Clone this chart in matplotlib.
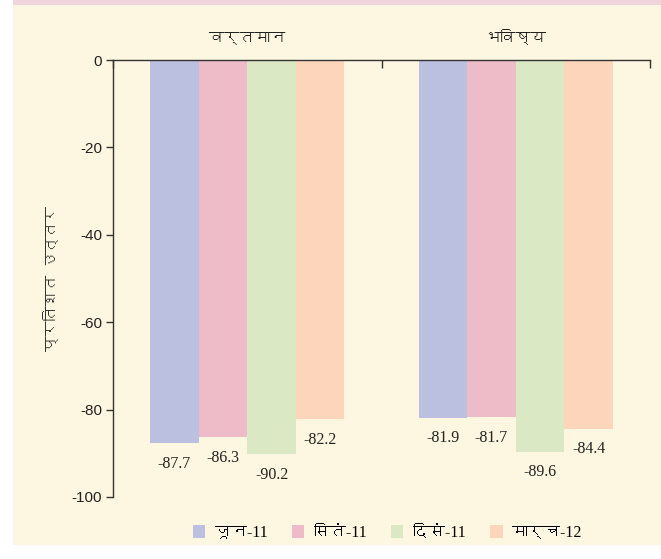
import matplotlib
matplotlib.use("Agg")
import matplotlib.pyplot as plt
from matplotlib import font_manager
from matplotlib.ft2font import FT2Font
from matplotlib.patches import Rectangle
import numpy as np

groups = ["वर्तमान", "भविष्य"]
series = ["जून-11", "सितं-11", "दिसं-11", "मार्च-12"]
values = {
    "जून-11": [-87.7, -81.9],
    "सितं-11": [-86.3, -81.7],
    "दिसं-11": [-90.2, -89.6],
    "मार्च-12": [-82.2, -84.4],
}
yticks = [0, -20, -40, -60, -80, -100]
ylabel = "प्रतिशत उत्तर"

colors = ["#bbbfe0", "#edbcc8", "#dae9c4", "#fdd5ba"]
bg = "#fdf6e1"


def fonts_with(ch):
    # names of installed fonts that have a glyph for ch
    names = []
    for path in sorted(font_manager.findSystemFonts()):
        try:
            if ord(ch) in FT2Font(path).get_charmap():
                names.append(font_manager.FontProperties(fname=path).get_name())
        except Exception:
            continue
    return names


found = fonts_with("क")
prop = [n for n in found if "Mono" not in n]
deva = (prop or found or [None])[0]
extra = [deva] if deva else []

sans = ["Liberation Sans"] + extra
hindi = extra + ["Liberation Sans"]
serif = ["Liberation Serif"] + extra
plt.rcParams["font.family"] = sans

fig = plt.figure(figsize=(6.61, 5.59), dpi=100, facecolor="white")
fig.patches.append(Rectangle((13 / 661, 14 / 559), 1, 540 / 559, transform=fig.transFigure,
                             facecolor=bg, edgecolor="none", zorder=-2))
fig.patches.append(Rectangle((13 / 661, 554 / 559), 1, 5 / 559, transform=fig.transFigure,
                             facecolor="#eed6dc", edgecolor="none", zorder=-2))

ax = fig.add_axes([113 / 661, 1 - 497 / 559, 537 / 661, 437 / 559])
ax.set_facecolor("none")

x = np.arange(len(groups))
width = 0.724 / len(series)
for i, name in enumerate(series):
    pos = x - 0.362 + width * (i + 0.5)
    bars = ax.bar(pos, values[name], width, color=colors[i], label=name)
    for b, v in zip(bars, values[name]):
        ax.annotate(f"{v:.1f}", (b.get_x() + b.get_width() / 2, v), xytext=(0, -9),
                    textcoords="offset points", ha="center", va="top",
                    fontsize=11.5, family=serif, color="#222222")

ax.set_xlim(-0.5, len(groups) - 0.5)
ax.set_ylim(-100, 0)
ax.set_yticks(yticks)
ax.set_yticklabels([str(t) for t in yticks], fontsize=11, color="#222222")
ax.tick_params(axis="y", direction="out", length=5, width=1, color="#333333", pad=3)

# category names sit above the zero line; boundary ticks hang from it
ax.xaxis.tick_top()
ax.set_xticks(x)
ax.set_xticklabels(groups, fontsize=11, color="#222222", family=hindi)
ax.set_xticks(np.arange(len(groups) + 1) - 0.5, minor=True)
ax.tick_params(axis="x", which="major", length=0, pad=11)
ax.tick_params(axis="x", which="minor", direction="in", length=6, width=1, color="#333333")

for side in ["bottom", "right"]:
    ax.spines[side].set_visible(False)
for side in ["left", "top"]:
    ax.spines[side].set_color("#333333")
    ax.spines[side].set_linewidth(1)

ax.set_ylabel(ylabel, fontsize=11, color="#333333", labelpad=9, family=hindi)

fig.legend(loc="center", bbox_to_anchor=(387 / 661, 1 - 533 / 559), ncol=4, frameon=False,
           handlelength=0.8, handleheight=0.8, handletextpad=0.6, columnspacing=1.5,
           prop={"family": serif, "size": 11.5})

fig.savefig("out.png", dpi=100, facecolor="white")
